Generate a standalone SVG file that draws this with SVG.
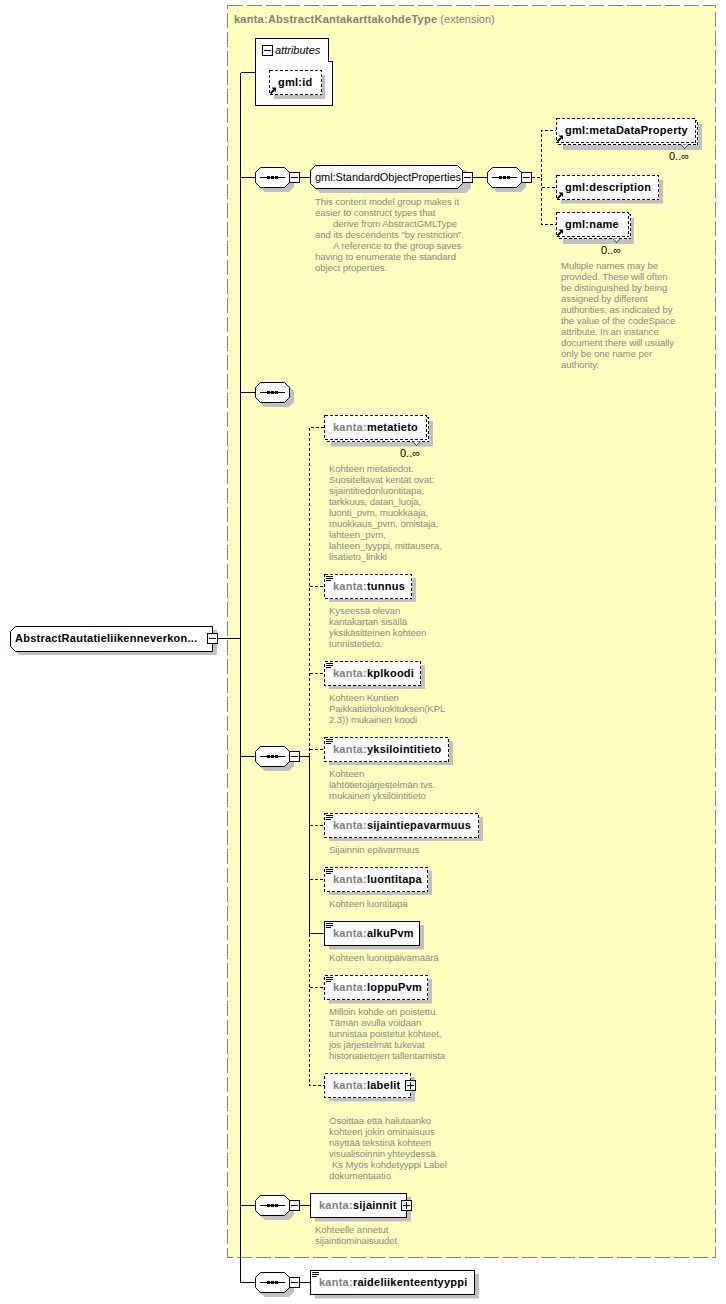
<svg xmlns="http://www.w3.org/2000/svg" width="726" height="1304" viewBox="0 0 726 1304">
<style>
text{font-family:"Liberation Sans",Arial,sans-serif;font-size:11px;fill:#000}
.b{font-weight:bold;letter-spacing:.25px}
.k{fill:#808080}
.r{letter-spacing:-.05px}
.d{font-size:9.6px;fill:#888;letter-spacing:-.08px}
.o{font-size:11px}
.s{fill:#c0c0c0;stroke:none}
.w{fill:#fff;stroke:#000;shape-rendering:crispEdges}
.wd{fill:#fff;stroke:#000;stroke-dasharray:3 2;shape-rendering:crispEdges}
.l{fill:none;stroke:#000;shape-rendering:crispEdges}
.ld{fill:none;stroke:#000;stroke-dasharray:3 2;shape-rendering:crispEdges}
.oct{fill:#fff;stroke:#000}
.t{fill:#fff;stroke:#000;stroke-width:.8}
</style>
<defs>
<g id="minus"><rect class="w" x="0.5" y="0.5" width="10" height="10"/><path class="l" d="M2 5.5H9"/></g>
<g id="plus"><rect class="w" x="0.5" y="0.5" width="10" height="10"/><path class="l" d="M2 5.500H9M5.500 2V9"/></g>
<g id="seq"><path class="s" d="M10 4H34L39 9V20L34 25H10L4 20V9Z"/><path class="oct" d="M5.500 .5H29.500L34.500 5.500V15.500L29.500 20.500H5.500L.5 15.500V5.500Z"/><path class="l" d="M5 10.500H30"/><rect x="12" y="9" width="3" height="3"/><rect x="16" y="9" width="3" height="3"/><rect x="20" y="9" width="3" height="3"/></g>
<g id="doc"><path class="l" d="M0 .5H7M0 2.500H7M0 4.500H5"/></g>
<g id="ref"><path d="M.5 6.500L4 3" fill="none" stroke="#000" stroke-width="1.800"/><path d="M1.500 .5H6V5Z" fill="#000"/></g>
<path id="tick" class="t" d="M0 0L3.500 4L7 0"/>
</defs>
<rect x="227.500" y="5.500" width="488" height="1252" fill="#ffffc0" stroke="#808080" stroke-dasharray="15 4" shape-rendering="crispEdges"/>
<text x="234" y="23" class="b k">kanta:AbstractKantakarttakohdeType<tspan font-weight="normal" letter-spacing="0"> (extension)</tspan></text>
<g id="connectors">
<path class="l" d="M217 638.500H240.500M240.500 72.500V1282.500M240.500 72.500H256M240.500 177.500H255M240.500 392.500H255M240.500 756.500H255M240.500 1205.500H255M240.500 1282.500H255"/>
<path class="l" d="M300 177.500H311M473 177.500H487M300 756.500H309.500M309.500 756.500V933.500H325M300 1205.500H311M300 1282.500H311"/>
<path class="ld" d="M532 177.500H541.500V130.500H556M541.500 177.500V224.500H556M541.500 187.500H556"/>
<path class="ld" d="M309.500 756V427.500H325M309.500 586.500H325M309.500 673.500H325M309.500 749.500H325M309.500 825.500H325M309.500 879.500H325M309.500 933.500V1085.500H325M309.500 987.500H325"/>
</g>
<g id="n-root"><path class="s" d="M14 630H217V655H19L14 650Z"/><path class="w" style="shape-rendering:auto" d="M15.500 626.500H212.500V651.500H15.500L10.500 646.500V631.500Z"/><text x="15" y="642" class="b">AbstractRautatieliikenneverkon...</text><use href="#minus" x="207" y="633"/></g>
<g id="n-attributes"><path class="w" d="M255.500 38.500H328.500V61.500H332.500V105.500H255.500Z"/><use href="#minus" x="262" y="45"/><text x="275" y="54" font-style="italic">attributes</text><rect class="s" x="274" y="75" width="51" height="24"/><rect class="wd" x="269.500" y="70.500" width="52" height="24"/><text x="278" y="86" class="b">gml:id</text><use href="#ref" x="270" y="87"/></g>
<g id="n-seq1"><use href="#seq" x="255" y="167"/><use href="#minus" x="289" y="172"/></g>
<g id="n-sop"><path class="s" d="M320 170H466L471 175V188L466 193H320L315 188V175Z"/><path class="oct" d="M315.500 165.500H457.500L462.500 170.500V183.500L457.500 188.500H315.500L310.500 183.500V170.500Z"/><text x="315" y="181" class="r">gml:StandardObjectProperties</text><use href="#minus" x="462" y="172"/>
<text class="d" x="315" y="205">This content model group makes it</text><text class="d" x="315" y="216">easier to construct types that</text><text class="d" x="333" y="227">derive from AbstractGMLType</text><text class="d" x="315" y="238">and its descendents "by restriction".</text><text class="d" x="333" y="249">A reference to the group saves</text><text class="d" x="315" y="260">having to enumerate the standard</text><text class="d" x="315" y="271">object properties.</text></g>
<g id="n-seq2"><use href="#seq" x="487" y="167"/><use href="#minus" x="521" y="172"/></g>
<g id="n-metaDataProperty"><rect class="s" x="563" y="124" width="139" height="26"/><rect class="wd" x="558.500" y="120.500" width="139" height="24"/><rect class="wd" x="556.500" y="118.500" width="139" height="24"/><text x="565" y="134" class="b">gml:metaDataProperty</text><use href="#tick" x="681" y="144.500"/><use href="#ref" x="557" y="135"/><text class="o" x="669" y="160">0..∞</text></g>
<g id="n-description"><rect class="s" x="561" y="180" width="102" height="23.500"/><rect class="wd" x="556.500" y="175.500" width="102" height="24"/><text x="565" y="191" class="b">gml:description</text><use href="#ref" x="557" y="192"/></g>
<g id="n-name"><rect class="s" x="563" y="218" width="71" height="26"/><rect class="wd" x="558.500" y="214.500" width="72" height="24"/><rect class="wd" x="556.500" y="212.500" width="72" height="24"/><text x="565" y="228" class="b">gml:name</text><use href="#tick" x="613" y="238.500"/><use href="#ref" x="557" y="229"/><text class="o" x="601" y="254">0..∞</text>
<text class="d" x="561" y="269">Multiple names may be</text><text class="d" x="561" y="280">provided.  These will often</text><text class="d" x="561" y="291">be distinguished by being</text><text class="d" x="561" y="302">assigned by different</text><text class="d" x="561" y="313">authorities, as indicated by</text><text class="d" x="561" y="324">the value of the codeSpace</text><text class="d" x="561" y="335">attribute.  In an instance</text><text class="d" x="561" y="346">document there will usually</text><text class="d" x="561" y="357">only be one name per</text><text class="d" x="561" y="368">authority.</text></g>
<g id="n-seq3"><use href="#seq" x="255" y="382"/></g>
<g id="n-seq4"><use href="#seq" x="255" y="746"/><use href="#minus" x="289" y="751"/></g>
<g id="n-metatieto"><rect class="s" x="331" y="421" width="102" height="25.500"/><rect class="wd" x="326.500" y="417.500" width="102" height="24"/><rect class="wd" x="324.500" y="415.500" width="102" height="24"/><text x="333" y="431" class="b"><tspan class="k">kanta:</tspan>metatieto</text><use href="#tick" x="413" y="441.500"/><text class="o" x="400" y="457">0..∞</text>
<text class="d" x="329" y="472">Kohteen metatiedot.</text><text class="d" x="329" y="483">Suositeltavat kentät ovat:</text><text class="d" x="329" y="494">sijaintitiedonluontitapa,</text><text class="d" x="329" y="505">tarkkuus, datan_luoja,</text><text class="d" x="329" y="516">luonti_pvm, muokkaaja,</text><text class="d" x="329" y="527">muokkaus_pvm, omistaja,</text><text class="d" x="329" y="538">lahteen_pvm,</text><text class="d" x="329" y="549">lahteen_tyyppi, mittausera,</text><text class="d" x="329" y="560">lisatieto_linkki</text></g>
<g id="n-tunnus"><rect class="s" x="329" y="578" width="87" height="24"/><rect class="wd" x="324.500" y="574.500" width="87" height="24"/><use href="#doc" x="326" y="576"/><text x="333" y="590" class="b"><tspan class="k">kanta:</tspan>tunnus</text>
<text class="d" x="329" y="614">Kyseessä olevan</text><text class="d" x="329" y="625">kantakartan sisällä</text><text class="d" x="329" y="636">yksikäsitteinen kohteen</text><text class="d" x="329" y="647">tunnistetieto.</text></g>
<g id="n-kplkoodi"><rect class="s" x="329" y="665" width="96" height="24"/><rect class="wd" x="324.500" y="661.500" width="96" height="24"/><use href="#doc" x="326" y="663"/><text x="333" y="677" class="b"><tspan class="k">kanta:</tspan>kplkoodi</text>
<text class="d" x="329" y="701">Kohteen Kuntien</text><text class="d" x="329" y="712">Paikkaitietoluokituksen(KPL</text><text class="d" x="329" y="723">2.3)) mukainen koodi</text></g>
<g id="n-yksilointitieto"><rect class="s" x="329" y="741" width="124" height="24"/><rect class="wd" x="324.500" y="737.500" width="124" height="24"/><use href="#doc" x="326" y="739"/><text x="333" y="753" class="b"><tspan class="k">kanta:</tspan>yksilointitieto</text>
<text class="d" x="329" y="777">Kohteen</text><text class="d" x="329" y="788">lähtötietojärjestelmän  tvs.</text><text class="d" x="329" y="799">mukainen yksilöintitieto</text></g>
<g id="n-sijaintiepavarmuus"><rect class="s" x="329" y="817" width="154" height="24"/><rect class="wd" x="324.500" y="813.500" width="154" height="24"/><use href="#doc" x="326" y="815"/><text x="333" y="829" class="b"><tspan class="k">kanta:</tspan>sijaintiepavarmuus</text>
<text class="d" x="329" y="853">Sijainnin epävarmuus</text></g>
<g id="n-luontitapa"><rect class="s" x="329" y="871" width="103" height="24"/><rect class="wd" x="324.500" y="867.500" width="103" height="24"/><use href="#doc" x="326" y="869"/><text x="333" y="883" class="b"><tspan class="k">kanta:</tspan>luontitapa</text>
<text class="d" x="329" y="907">Kohteen luontitapa</text></g>
<g id="n-alkuPvm"><rect class="s" x="329" y="925" width="95" height="24.500"/><rect class="w" x="324.500" y="921.500" width="95" height="24"/><use href="#doc" x="326" y="923"/><text x="333" y="937" class="b"><tspan class="k">kanta:</tspan>alkuPvm</text>
<text class="d" x="329" y="961">Kohteen luontipäivämäärä</text></g>
<g id="n-loppuPvm"><rect class="s" x="329" y="979" width="103" height="24.500"/><rect class="wd" x="324.500" y="975.500" width="103" height="24"/><use href="#doc" x="326" y="977"/><text x="333" y="991" class="b"><tspan class="k">kanta:</tspan>loppuPvm</text>
<text class="d" x="329" y="1015">Milloin kohde on poistettu.</text><text class="d" x="329" y="1026">Tämän avulla voidaan</text><text class="d" x="329" y="1037">tunnistaa poistetut kohteet,</text><text class="d" x="329" y="1048">jos järjestelmät tukevat</text><text class="d" x="329" y="1059">historiatietojen tallentamista</text></g>
<g id="n-labelit"><rect class="s" x="329" y="1077" width="86" height="24.500"/><rect class="wd" x="324.500" y="1073.500" width="86" height="24"/><text x="333" y="1089" class="b"><tspan class="k">kanta:</tspan>labelit</text><use href="#plus" x="405" y="1080"/>
<text class="d" x="329" y="1124">Osoittaa että halutaanko</text><text class="d" x="329" y="1135">kohteen jokin ominaisuus</text><text class="d" x="329" y="1146">näyttää tekstinä kohteen</text><text class="d" x="329" y="1157">visualisoinnin yhteydessä.</text><text class="d" x="332" y="1168">Ks Myös kohdetyyppi Label</text><text class="d" x="329" y="1179">dokumentaatio</text></g>
<g id="n-seq5"><use href="#seq" x="255" y="1195"/><use href="#minus" x="289" y="1200"/></g>
<g id="n-sijainnit"><rect class="s" x="315" y="1197" width="96" height="24.500"/><rect class="w" x="310.500" y="1193.500" width="96" height="24"/><text x="319" y="1209" class="b"><tspan class="k">kanta:</tspan>sijainnit</text><use href="#plus" x="401" y="1200"/>
<text class="d" x="315" y="1233">Kohteelle annetut</text><text class="d" x="315" y="1244">sijaintiominaisuudet</text></g>
<g id="n-seq6"><use href="#seq" x="255" y="1272"/><use href="#minus" x="289" y="1277"/></g>
<g id="n-raideliikenteentyyppi"><rect class="s" x="315" y="1274" width="164" height="24.500"/><rect class="w" x="310.500" y="1270.500" width="164" height="24"/><use href="#doc" x="312" y="1272"/><text x="319" y="1286" class="b"><tspan class="k">kanta:</tspan>raideliikenteentyyppi</text></g>
</svg>
